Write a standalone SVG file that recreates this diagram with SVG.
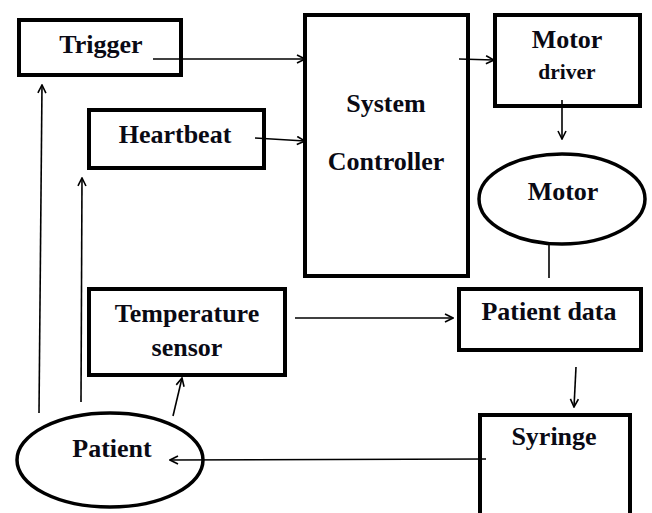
<svg xmlns="http://www.w3.org/2000/svg" width="652" height="513" viewBox="0 0 652 513">
  <defs>
    <style>
      .box { fill: #fff; stroke: #000; stroke-width: 4; }
      .oval { fill: #fff; stroke: #000; stroke-width: 3.5; }
      .lbl { font-family: "Liberation Serif", "Times New Roman", serif; font-weight: bold; font-size: 26px; fill: #0a0a14; text-anchor: middle; }
      .sm { font-size: 21.5px; }
      .wire { fill: none; stroke: #000; stroke-width: 1.6; }
      .arr { marker-end: url(#head); }
    </style>
    <marker id="head" viewBox="0 0 10 10" refX="9" refY="5" markerWidth="10" markerHeight="10" markerUnits="userSpaceOnUse" orient="auto">
      <path d="M1,1 L9,5 L1,9" fill="none" stroke="#000" stroke-width="1.6"/>
    </marker>
  </defs>

  <rect width="652" height="513" fill="#fff"/>

  <g id="trigger">
    <rect class="box" x="19" y="20" width="162" height="55"/>
    <text class="lbl" x="101" y="53">Trigger</text>
  </g>

  <g id="heartbeat">
    <rect class="box" x="89" y="110" width="175" height="58"/>
    <text class="lbl" x="175" y="143">Heartbeat</text>
  </g>

  <g id="system-controller">
    <rect class="box" x="305" y="15" width="163" height="261"/>
    <text class="lbl" x="386" y="112">System</text>
    <text class="lbl" x="386" y="170">Controller</text>
  </g>

  <g id="motor-driver">
    <rect class="box" x="495" y="15" width="145" height="91"/>
    <text class="lbl" x="567" y="48">Motor</text>
    <text class="lbl sm" x="567" y="79">driver</text>
  </g>

  <g id="motor">
    <ellipse class="oval" cx="562" cy="199" rx="83" ry="45"/>
    <text class="lbl" x="563" y="200">Motor</text>
  </g>

  <g id="patient-data">
    <rect class="box" x="459" y="289" width="182" height="61"/>
    <text class="lbl" x="549" y="320">Patient data</text>
  </g>

  <g id="temperature-sensor">
    <rect class="box" x="89" y="289" width="196" height="86"/>
    <text class="lbl" x="187" y="322">Temperature</text>
    <text class="lbl" x="187" y="356">sensor</text>
  </g>

  <g id="syringe">
    <rect class="box" x="480" y="415" width="150" height="110"/>
    <text class="lbl" x="554" y="445">Syringe</text>
  </g>

  <g id="patient">
    <ellipse class="oval" cx="110" cy="460" rx="93" ry="47"/>
    <text class="lbl" x="112" y="457">Patient</text>
  </g>

  <g id="connectors">
    <line class="wire arr" x1="153" y1="59" x2="305" y2="59"/>
    <line class="wire arr" x1="255" y1="138" x2="305" y2="141"/>
    <line class="wire arr" x1="459" y1="59" x2="494" y2="60"/>
    <line class="wire arr" x1="562" y1="100" x2="562" y2="139"/>
    <line class="wire" x1="549" y1="245" x2="549" y2="278"/>
    <line class="wire arr" x1="295" y1="318" x2="453" y2="318"/>
    <line class="wire arr" x1="576" y1="367" x2="574" y2="407"/>
    <line class="wire arr" x1="486" y1="459" x2="170" y2="460"/>
    <line class="wire arr" x1="173" y1="416" x2="182" y2="378"/>
    <line class="wire arr" x1="39" y1="413" x2="42" y2="85"/>
    <line class="wire arr" x1="81" y1="402" x2="82" y2="178"/>
  </g>
</svg>
